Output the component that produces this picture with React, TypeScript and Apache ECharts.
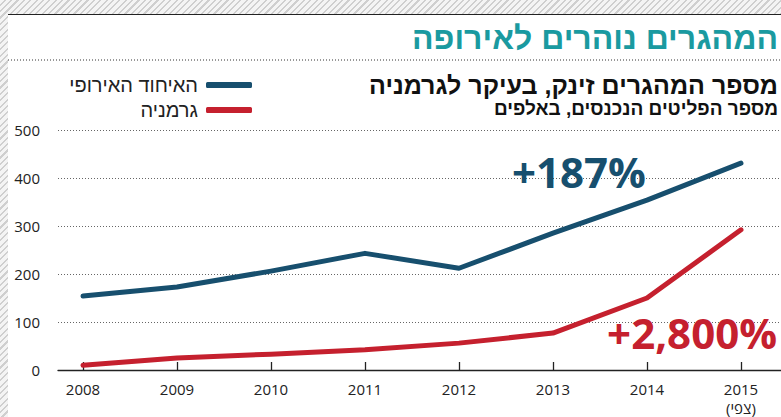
import React, { useEffect, useRef } from "react";
import * as echarts from "echarts";

const years = [2008, 2009, 2010, 2011, 2012, 2013, 2014, 2015];
const euValues = [154, 173, 206, 243, 212, 285, 354, 431];
const germanyValues = [10, 25, 33, 42, 56, 77, 150, 292];
const seriesNames = ["האיחוד האירופי", "גרמניה"];
const titleText = "המהגרים נוהרים לאירופה";
const subtitleText = "מספר המהגרים זינק, בעיקר לגרמניה";
const unitText = "מספר הפליטים הנכנסים, באלפים";
const euChange = "+187%";
const germanyChange = "+2,800%";
const forecastNote = "(צפי)";
const yMin = 0;
const yMax = 500;
const yStep = 100;

const BLUE = "#174f6e";
const RED = "#c5202e";
const TEAL = "#1a9aa0";
const HEB = "'Liberation Sans', 'DejaVu Sans', sans-serif";
const NUM = "'Open Sans', 'Liberation Sans', sans-serif";

export default function App() {
  const ref = useRef<HTMLDivElement>(null);
  useEffect(() => {
    if (!ref.current) return;
    const chart = echarts.init(ref.current, null, { renderer: "svg" });
    const euData = years.map((y, i) => [y, euValues[i]]);
    const deData = years.map((y, i) => [y, germanyValues[i]]);
    const legendBase = {
      right: 529,
      padding: 0,
      itemWidth: 46,
      itemHeight: 6,
      icon: "roundRect",
      align: "right" as const,
      orient: "vertical" as const,
      textStyle: { fontSize: 20, color: "#222", fontFamily: HEB, padding: [0, 3, 0, 0] },
    };
    chart.setOption({
      animation: false,
      backgroundColor: "transparent",
      grid: { left: 58, right: 0, top: 130, bottom: 47 },
      legend: [
        { ...legendBase, top: 75, data: [seriesNames[0]] },
        { ...legendBase, top: 100, data: [seriesNames[1]] },
      ],
      xAxis: {
        type: "value",
        min: 2007.734,
        max: 2015.426,
        axisLine: { show: true, lineStyle: { color: "#222", width: 1.3 } },
        axisTick: {
          show: true,
          inside: true,
          length: 8,
          customValues: years,
          lineStyle: { color: "#222", width: 1.3 },
        },
        axisLabel: {
          customValues: years,
          margin: 9,
          fontSize: 15,
          lineHeight: 19,
          color: "#222",
          fontFamily: NUM,
          formatter: (v: number) =>
            v === years[years.length - 1] ? `${v}\n${forecastNote}` : String(v),
        },
        splitLine: { show: false },
      },
      yAxis: {
        type: "value",
        min: yMin,
        max: yMax,
        interval: yStep,
        axisLine: { show: false },
        axisTick: { show: false },
        axisLabel: { margin: 18, fontSize: 15, color: "#222", fontFamily: NUM },
        splitLine: {
          show: true,
          lineStyle: { color: "#666", width: 1, type: [1, 2] },
        },
      },
      series: [
        {
          name: seriesNames[0],
          type: "line",
          data: euData,
          symbol: "none",
          color: BLUE,
          lineStyle: { width: 5, color: BLUE, cap: "round", join: "round" },
          z: 3,
        },
        {
          name: seriesNames[1],
          type: "line",
          data: deData,
          symbol: "none",
          color: RED,
          lineStyle: { width: 5, color: RED, cap: "round", join: "round" },
          z: 4,
        },
      ],
      graphic: [
        {
          type: "text",
          right: 3,
          top: 22,
          style: {
            text: titleText,
            fontSize: 32,
            fontWeight: "bold",
            fill: TEAL,
            fontFamily: HEB,
          },
        },
        {
          type: "line",
          shape: { x1: 8, y1: 60, x2: 781, y2: 60 },
          style: { stroke: "#333", lineWidth: 1, lineDash: [1, 2] },
        },
        {
          type: "text",
          right: 3,
          top: 72,
          style: {
            text: subtitleText,
            fontSize: 25,
            fontWeight: "bold",
            fill: "#111",
            fontFamily: HEB,
          },
        },
        {
          type: "text",
          right: 3,
          top: 99,
          style: {
            text: unitText,
            fontSize: 19,
            fontWeight: "bold",
            fill: "#111",
            fontFamily: HEB,
          },
        },
        {
          type: "text",
          left: 512,
          top: 150,
          z: 10,
          style: {
            text: euChange,
            fontSize: 42,
            fontWeight: "bold",
            fill: BLUE,
            fontFamily: NUM,
          },
        },
        {
          type: "text",
          right: 4,
          top: 311,
          z: 10,
          style: {
            text: germanyChange,
            fontSize: 42,
            fontWeight: "bold",
            fill: RED,
            fontFamily: NUM,
          },
        },
      ],
    });
    return () => chart.dispose();
  }, []);

  return (
    <div
      style={{
        position: "fixed",
        left: 0,
        top: 0,
        width: 781,
        height: 417,
        overflow: "hidden",
        background:
          "repeating-linear-gradient(135deg, #f4f4f4 0px, #f4f4f4 3px, #cfcfcf 3px, #cfcfcf 4.5px)",
      }}
    >
      <div
        style={{
          position: "absolute",
          left: 8,
          top: 14,
          right: 0,
          bottom: 0,
          background: "#fff",
          borderTop: "1.5px solid #222",
        }}
      />
      <div
        ref={ref}
        style={{ position: "absolute", left: 0, top: 0, width: 781, height: 417 }}
      />
    </div>
  );
}
